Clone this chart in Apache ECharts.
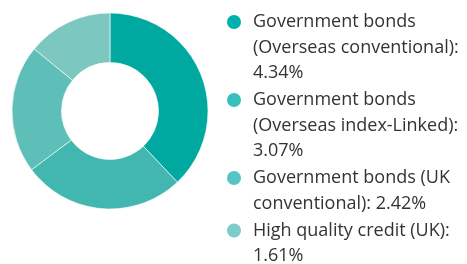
<!DOCTYPE html>
<html>
<head>
<meta charset="utf-8">
<script src="https://cdn.jsdelivr.net/npm/echarts@6/dist/echarts.min.js"></script>
<style>
  html, body { margin: 0; padding: 0; background: #fff; }
  #chart { width: 467px; height: 264px; }
</style>
</head>
<body>
<div id="chart"></div>
<script>
// 数据
const categories = [
  'Government bonds\n(Overseas conventional)',
  'Government bonds\n(Overseas index-Linked)',
  'Government bonds (UK\nconventional)',
  'High quality credit (UK)'
]
const values = [4.34, 3.07, 2.42, 1.61]
const valueOnNewLine = [true, true, false, true]

// 颜色
const sliceColors = ['#00A99F', '#41B7AF', '#5EBFB9', '#7CC7C0']
const markerColors = ['#00B0AD', '#36BFBC', '#58C3C4', '#7BCCCA']

const chart = echarts.init(document.getElementById('chart'))

// 图例：圆点放在第一行，其余行用空白占位对齐
const rich = {
  t: { fontSize: 18, lineHeight: 25.5, color: '#333', fontFamily: 'Open Sans', padding: [0, 0, 0, 12] },
  s: { width: 14, height: 14 }
}
markerColors.forEach((c, i) => {
  rich['m' + i] = { width: 14, height: 14, borderRadius: 7, backgroundColor: c, verticalAlign: 'middle' }
})

const legendFormatter = (name) => {
  const i = categories.indexOf(name)
  const text = name + ':' + (valueOnNewLine[i] ? '\n' : ' ') + values[i].toFixed(2) + '%'
  return text.split('\n').map((line, k) =>
    (k === 0 ? '{m' + i + '|}' : '{s|}') + '{t|' + line + '}'
  ).join('\n')
}

chart.setOption({
  animation: false,
  legend: {
    orient: 'vertical',
    left: 216,
    top: 8,
    itemWidth: 0,
    itemHeight: 0,
    itemGap: 9,
    icon: 'circle',
    selectedMode: false,
    data: categories,
    formatter: legendFormatter,
    textStyle: { rich }
  },
  series: [{
    type: 'pie',
    center: [110, 111],
    radius: [48.5, 98],
    startAngle: 90,
    clockwise: true,
    label: { show: false },
    labelLine: { show: false },
    emphasis: { disabled: true },
    itemStyle: { borderColor: '#fff', borderWidth: 0.6 },
    data: categories.map((name, i) => ({
      name,
      value: values[i],
      itemStyle: { color: sliceColors[i] }
    }))
  }]
})
</script>
</body>
</html>
